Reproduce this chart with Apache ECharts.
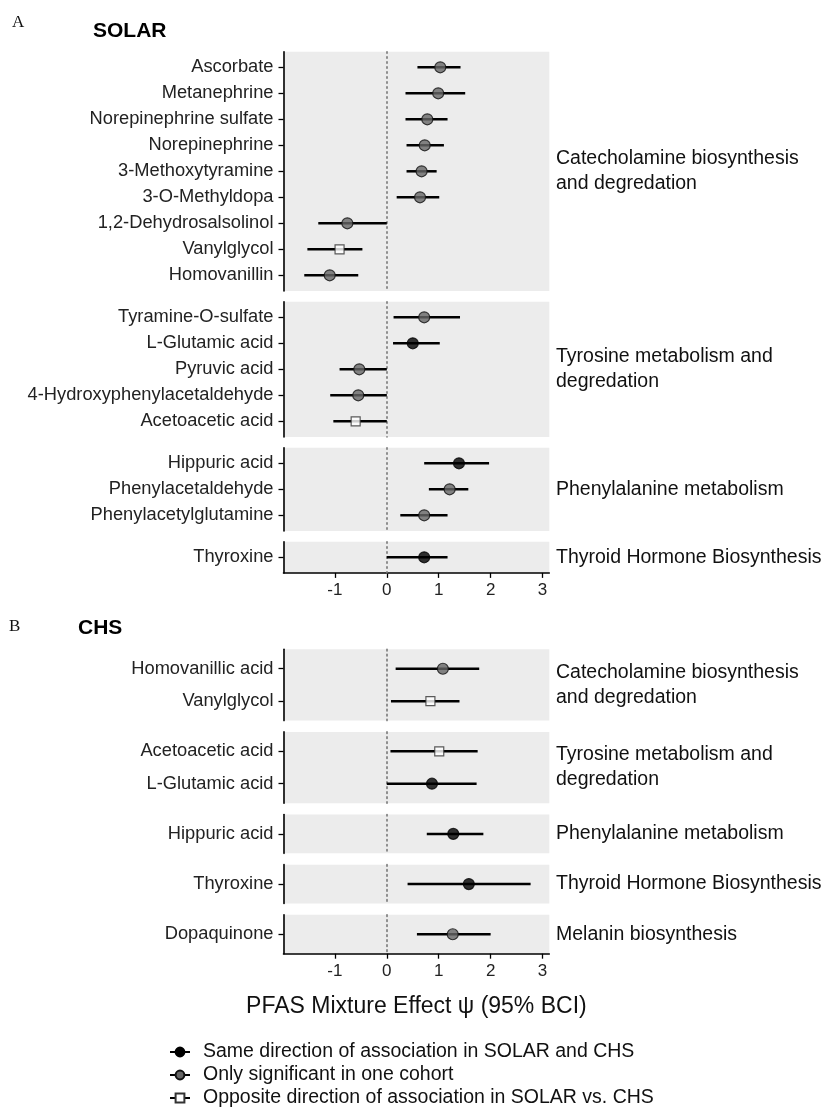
<!DOCTYPE html>
<html><head><meta charset="utf-8">
<script src="https://cdn.jsdelivr.net/npm/echarts@6/dist/echarts.min.js"></script>
<style>html,body{margin:0;padding:0;background:#fff}#c{width:826px;height:1110px}</style>
</head><body><div id="c"></div>
<script>
// ---------- DATA ----------
// type: 'same' = same direction in SOLAR and CHS, 'one' = only significant in one cohort, 'opp' = opposite direction
const solarGroupLabels = ['Catecholamine biosynthesis\nand degredation', 'Tyrosine metabolism and\ndegredation', 'Phenylalanine metabolism', 'Thyroid Hormone Biosynthesis'];
const solarMetabolites = ['Ascorbate', 'Metanephrine', 'Norepinephrine sulfate', 'Norepinephrine', '3-Methoxytyramine', '3-O-Methyldopa', '1,2-Dehydrosalsolinol', 'Vanylglycol', 'Homovanillin',
  'Tyramine-O-sulfate', 'L-Glutamic acid', 'Pyruvic acid', '4-Hydroxyphenylacetaldehyde', 'Acetoacetic acid',
  'Hippuric acid', 'Phenylacetaldehyde', 'Phenylacetylglutamine',
  'Thyroxine'];
const solarGroup = [0, 0, 0, 0, 0, 0, 0, 0, 0, 1, 1, 1, 1, 1, 2, 2, 2, 3];
const solarEstimate = [1.03, 0.99, 0.78, 0.73, 0.67, 0.64, -0.76, -0.91, -1.10, 0.72, 0.50, -0.53, -0.55, -0.60, 1.39, 1.21, 0.72, 0.72];
const solarLower = [0.59, 0.36, 0.36, 0.38, 0.38, 0.19, -1.32, -1.53, -1.59, 0.13, 0.12, -0.91, -1.09, -1.03, 0.72, 0.81, 0.26, 0.00];
const solarUpper = [1.42, 1.51, 1.17, 1.10, 0.96, 1.01, 0.00, -0.47, -0.55, 1.41, 1.02, 0.00, 0.00, 0.00, 1.97, 1.57, 1.17, 1.17];
const solarType = ['one', 'one', 'one', 'one', 'one', 'one', 'one', 'opp', 'one', 'one', 'same', 'one', 'one', 'opp', 'same', 'one', 'one', 'same'];

const chsGroupLabels = ['Catecholamine biosynthesis\nand degredation', 'Tyrosine metabolism and\ndegredation', 'Phenylalanine metabolism', 'Thyroid Hormone Biosynthesis', 'Melanin biosynthesis'];
const chsMetabolites = ['Homovanillic acid', 'Vanylglycol', 'Acetoacetic acid', 'L-Glutamic acid', 'Hippuric acid', 'Thyroxine', 'Dopaquinone'];
const chsGroup = [0, 0, 1, 1, 2, 3, 4];
const chsEstimate = [1.08, 0.84, 1.01, 0.87, 1.28, 1.58, 1.27];
const chsLower = [0.17, 0.08, 0.07, 0.00, 0.77, 0.40, 0.58];
const chsUpper = [1.78, 1.40, 1.75, 1.73, 1.86, 2.77, 2.00];
const chsType = ['one', 'opp', 'opp', 'same', 'same', 'same', 'one'];

const xTicks = [-1, 0, 1, 2, 3];
const legendLabels = {
  same: 'Same direction of association in SOLAR and CHS',
  one: 'Only significant in one cohort',
  opp: 'Opposite direction of association in SOLAR vs. CHS'
};
const xTitle = 'PFAS Mixture Effect \u03c8 (95% BCI)';

// ---------- LAYOUT / STYLE ----------
const FONT = '"Liberation Sans", Arial, Helvetica, sans-serif';
const X_MIN = -1.99, X_MAX = 3.13;
const PLOT_LEFT = 283.5, PLOT_W = 265.8;
const styleOf = {
  same: { symbol: 'circle', size: 11, color: '#000000', border: '#000000' },
  one: { symbol: 'circle', size: 11, color: '#666666', border: '#111111' },
  opp: { symbol: 'rect', size: 9, color: '#ffffff', border: '#333333' }
};

const grids = [], xAxes = [], yAxes = [], series = [], graphics = [];

function addCohort(names, groups, est, lo, hi, types, groupLabels, top, step, gap, axisTitle) {
  let y = top;
  for (let g = 0; g < groupLabels.length; g++) {
    const idx = [];
    names.forEach((n, i) => { if (groups[i] === g) idx.push(i); });
    const n = idx.length;
    const h = (n - 1 + 1.2) * step;
    const gi = grids.length;
    const last = g === groupLabels.length - 1;
    const labels = idx.map(i => names[i]);
    const pos = labels.map((_, k) => k);
    grids.push({ left: PLOT_LEFT, top: y, width: PLOT_W, height: h, show: true, backgroundColor: '#ececec', borderWidth: 0 });
    xAxes.push({
      gridIndex: gi, type: 'value', min: X_MIN, max: X_MAX, splitLine: { show: false },
      axisLine: { show: last, onZero: false, lineStyle: { color: '#000', width: 1.6 } },
      axisTick: { show: last, customValues: xTicks, length: 5, lineStyle: { color: '#000', width: 1.3 } },
      axisLabel: { show: last, customValues: xTicks, fontSize: 17, color: '#222', margin: 9, fontFamily: FONT },
      name: (last && axisTitle) ? axisTitle : '', nameLocation: 'middle', nameGap: 41,
      nameTextStyle: { fontSize: 23, color: '#111', fontFamily: FONT }
    });
    yAxes.push({
      gridIndex: gi, type: 'value', min: -0.6, max: n - 0.4, inverse: true, splitLine: { show: false },
      axisLine: { show: true, onZero: false, lineStyle: { color: '#000', width: 1.6 } },
      axisTick: { show: true, customValues: pos, length: 5, lineStyle: { color: '#000', width: 1.3 } },
      axisLabel: { customValues: pos, formatter: v => labels[Math.round(v)], fontSize: 18.3, color: '#222', margin: 10, fontFamily: FONT }
    });
    series.push({
      type: 'custom', xAxisIndex: gi, yAxisIndex: gi, silent: true, z: 2,
      data: idx.map((i, k) => [lo[i], hi[i], k]),
      encode: { x: [0, 1], y: 2 },
      renderItem: function (params, api) {
        const p1 = api.coord([api.value(0), api.value(2)]);
        const p2 = api.coord([api.value(1), api.value(2)]);
        return { type: 'line', shape: { x1: p1[0], y1: p1[1], x2: p2[0], y2: p2[1] }, style: { stroke: '#000', lineWidth: 2.5 } };
      }
    });
    series.push({
      type: 'scatter', xAxisIndex: gi, yAxisIndex: gi, silent: true, z: 3,
      data: idx.map((i, k) => {
        const s = styleOf[types[i]];
        return { value: [est[i], k], symbol: s.symbol, symbolSize: s.size, itemStyle: { color: s.color, borderColor: s.border, borderWidth: 1.2 } };
      }),
      markLine: {
        silent: true, symbol: ['none', 'none'], label: { show: false }, z: 1,
        lineStyle: { type: [1.6, 3.4], cap: 'round', color: '#777777', width: 1.6 },
        data: [{ xAxis: 0 }]
      }
    });
    graphics.push({
      type: 'text', x: 556, y: y + h / 2,
      style: { text: groupLabels[g], fontSize: 19.5, lineHeight: 25, fontFamily: FONT, fill: '#111', verticalAlign: 'middle', align: 'left' }
    });
    y += h + gap;
  }
}

addCohort(solarMetabolites, solarGroup, solarEstimate, solarLower, solarUpper, solarType, solarGroupLabels, 51.7, 26, 10.8, null);
addCohort(chsMetabolites, chsGroup, chsEstimate, chsLower, chsUpper, chsType, chsGroupLabels, 649.3, 32.4, 11.3, xTitle);

// legend-only series (line + point keys)
['same', 'one', 'opp'].forEach(t => {
  const s = styleOf[t];
  series.push({
    type: 'line', name: legendLabels[t], xAxisIndex: 0, yAxisIndex: 0, data: [],
    symbol: s.symbol, symbolSize: s.size - 2,
    itemStyle: { color: s.color, borderColor: s.border, borderWidth: 1.2 },
    lineStyle: { color: '#000', width: 2.5 }
  });
});

graphics.push(
  { type: 'text', x: 12, y: 23, style: { text: 'A', fontSize: 17, fontFamily: '"Liberation Serif", "Times New Roman", serif', fill: '#111', verticalAlign: 'middle' } },
  { type: 'text', x: 93, y: 31, style: { text: 'SOLAR', fontSize: 21, fontWeight: 'bold', fontFamily: FONT, fill: '#000', verticalAlign: 'middle' } },
  { type: 'text', x: 9, y: 627, style: { text: 'B', fontSize: 17, fontFamily: '"Liberation Serif", "Times New Roman", serif', fill: '#111', verticalAlign: 'middle' } },
  { type: 'text', x: 78, y: 628, style: { text: 'CHS', fontSize: 21, fontWeight: 'bold', fontFamily: FONT, fill: '#000', verticalAlign: 'middle' } }
);

const chart = echarts.init(document.getElementById('c'), null, { renderer: 'canvas' });
chart.setOption({
  animation: false,
  backgroundColor: '#ffffff',
  grid: grids,
  xAxis: xAxes,
  yAxis: yAxes,
  series: series,
  graphic: graphics,
  legend: {
    orient: 'vertical', left: 169, top: 1041, padding: 0, itemGap: 1, itemWidth: 20, itemHeight: 11,
    height: 100,
    data: [legendLabels.same, legendLabels.one, legendLabels.opp],
    textStyle: { fontSize: 19.5, lineHeight: 22, color: '#111', fontFamily: FONT, padding: [0, 0, 0, 8] },
    selectedMode: false
  }
});
</script>
</body></html>
